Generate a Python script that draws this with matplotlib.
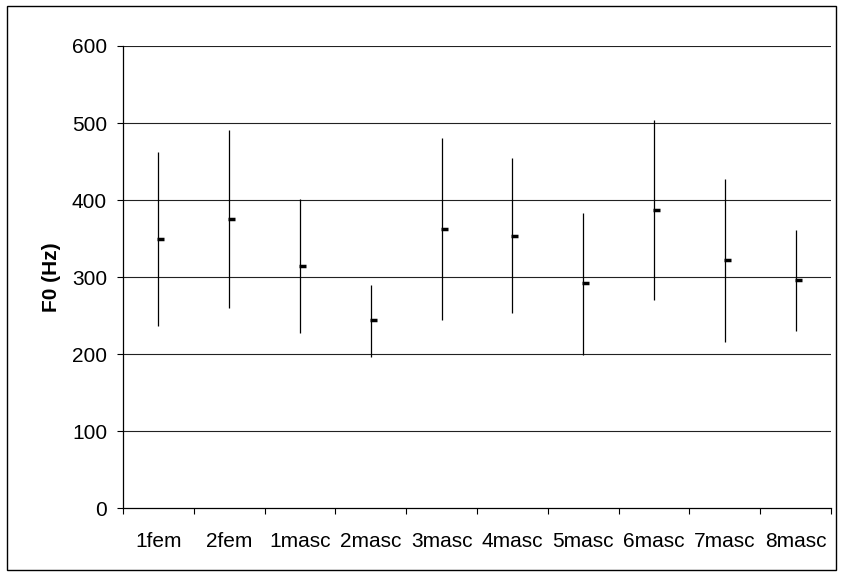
import matplotlib
matplotlib.use("Agg")
import matplotlib.pyplot as plt
from matplotlib.patches import Rectangle
import numpy as np

plt.rcParams['font.family'] = ['Liberation Sans', 'DejaVu Sans']

speakers = ['1fem', '2fem', '1masc', '2masc', '3masc',
            '4masc', '5masc', '6masc', '7masc', '8masc']
f0_high = [462, 491, 402, 290, 481, 454, 383, 504, 427, 361]
f0_low = [237, 260, 228, 197, 245, 253, 199, 270, 216, 230]
f0_mean = [350, 376, 315, 244, 363, 354, 292, 387, 322, 296]

fig = plt.figure(figsize=(8.42, 5.76), dpi=100)
ax = fig.add_axes([123 / 842, 67.7 / 576, 708 / 842, 462.3 / 576])

x = np.arange(len(speakers)) + 0.5

# gridlines
for y in range(100, 700, 100):
    ax.axhline(y, color='#222222', lw=0.8, zorder=1)

# high-low bars with mean ticks
ax.vlines(x, f0_low, f0_high, color='black', lw=0.9, zorder=2)
ax.hlines(f0_mean, x - 0.015, x + 0.085, color='black', lw=2.5, zorder=3)

ax.set_xlim(0, len(speakers))
ax.set_ylim(0, 600)
ax.set_yticks(range(0, 700, 100))
ax.set_xticks(np.arange(len(speakers) + 1))
ax.set_xticklabels([])
ax.set_xticks(x, minor=True)
ax.set_xticklabels(speakers, minor=True)

ax.tick_params(axis='y', direction='out', length=4.5, width=0.8, pad=7, labelsize=15)
ax.tick_params(axis='x', which='major', direction='out', length=4.5, width=0.8)
ax.tick_params(axis='x', which='minor', length=0, pad=17, labelsize=15)

for side in ['top', 'right']:
    ax.spines[side].set_visible(False)
for side in ['left', 'bottom']:
    ax.spines[side].set_linewidth(0.9)

ax.set_ylabel('F0 (Hz)', fontsize=15, fontweight='bold', labelpad=8)

# outer frame
fig.patches.append(Rectangle((7 / 842, 6 / 576), 829 / 842, 564 / 576,
                             transform=fig.transFigure, fill=False,
                             edgecolor='black', lw=1.0))

fig.savefig('out.png', dpi=100)
